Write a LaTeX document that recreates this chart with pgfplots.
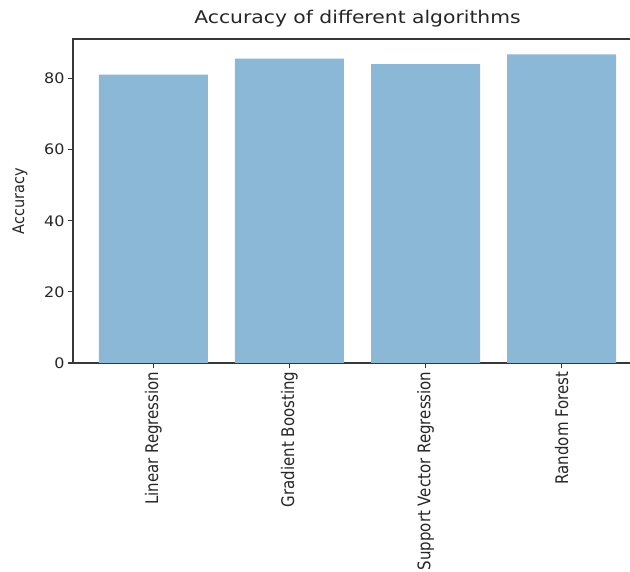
\documentclass[border=0pt]{standalone}
\usepackage{fontspec}
\setmainfont{DejaVu Sans}
\usepackage{graphicx}
\usepackage{pgfplots}
\pgfplotsset{compat=1.18}
\definecolor{barblue}{RGB}{140,184,216}
\definecolor{spine}{RGB}{55,55,55}
\begin{document}
\begin{tikzpicture}[x=1pt,y=1pt]
\useasboundingbox (0,0) rectangle (630,572);
\begin{axis}[
  at={(73pt,209pt)}, anchor=south west,
  scale only axis, width=569pt, height=324pt,
  xmin=-0.59, xmax=3.59, ymin=0, ymax=91.1,
  ybar, bar width=0.8, bar shift=0pt,
  xtick={0,1,2,3},
  xticklabels={\scalebox{1}[1.16]{Linear Regression}, \scalebox{1}[1.16]{Gradient Boosting}, \scalebox{1}[1.16]{Support Vector Regression}, \scalebox{1}[1.16]{Random Forest}},
  ytick={0,20,40,60,80},
  yticklabel={\scalebox{1.1}[1]{\pgfmathprintnumber{\tick}}},
  tick align=outside, tick pos=left,
  major tick length=5pt,
  tick style={spine, line width=1.2pt},
  axis line style={spine, line width=1.2pt},
  xticklabel style={rotate=90, anchor=east, font=\fontsize{15}{18}\selectfont, text=black!85},
  yticklabel style={font=\fontsize{14.5}{17}\selectfont, text=black!85},
  /pgf/number format/assume math mode=true,
  title={\scalebox{1.16}[1]{\fontsize{17.5}{21}\selectfont Accuracy of different algorithms}},
  title style={at={(axis description cs:0.5,1)}, anchor=base, yshift=9pt, text=black!85},
  ylabel={\scalebox{1}[1.1]{Accuracy}},
  ylabel style={at={(axis description cs:-0.0931,0.5)}, anchor=center, font=\fontsize{14.5}{17}\selectfont, text=black!85},
]
\addplot[fill=barblue, draw=none] coordinates {(0,81.1) (1,85.6) (2,84.0) (3,86.8)};
\end{axis}
\end{tikzpicture}
\end{document}
